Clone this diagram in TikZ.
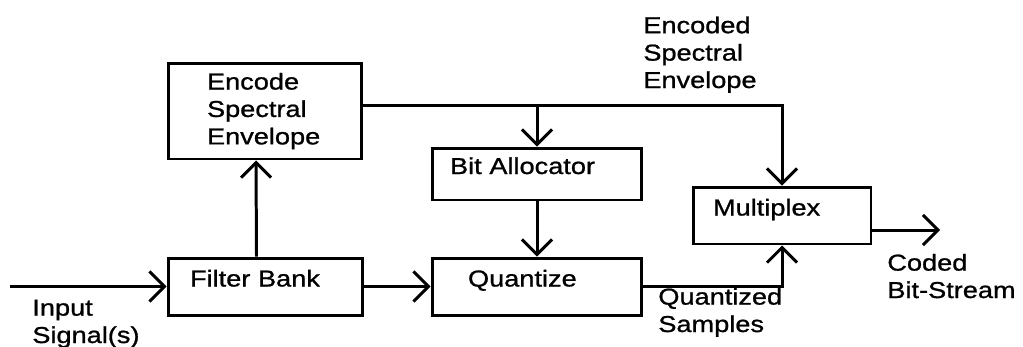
\documentclass[tikz,border=0pt]{standalone}
\usepackage{fontspec}
\setmainfont[FakeStretch=1.18,FakeBold=1]{Liberation Sans}
\usepackage{tikz}
\usetikzlibrary{arrows.meta,calc}
\tikzset{
  blk/.style={draw,line width=1.7pt,inner sep=0pt,align=left},
  blkone/.style={blk,text height=0.2cm,text depth=0.2cm},
  arr/.style={-{Straight Barb[length=0.3cm,width=0.6cm]},line width=1.7pt},
  lbl/.style={anchor=base west,align=left,inner sep=0pt},
}

\begin{document}
\begin{tikzpicture}[x=0.02cm,y=-0.02cm,font=\fontsize{13.1}{15.6}\selectfont]
  \useasboundingbox (0,0) rectangle (1023,346);

  % blocks
  \node[blk,minimum width=3.88cm,minimum height=1.92cm,text width=2.32cm](enc) at (265,111) {Encode\\Spectral\\Envelope};
  \node[blkone,minimum width=3.9cm,minimum height=1.14cm,text width=3.02cm](fb) at (265.5,286.5) {Filter Bank};
  \node[blkone,minimum width=4.2cm,minimum height=1.04cm,text width=3.48cm](bit) at (537,174) {Bit Allocator};
  \node[blkone,minimum width=4.2cm,minimum height=1.14cm,text width=2.76cm](quant) at (537,286.5) {Quantize};
  \node[blkone,minimum width=3.56cm,minimum height=1.14cm,text width=2.76cm](mux) at (782,215.5) {Multiplex};

  % free ends
  \coordinate (in) at (10,286.5);
  \coordinate (out) at (940,230);
  \coordinate (bus) at ($(enc.east)+(0,-6)$);

  % labels (base = last line)
  \node[lbl](insig) at (32,343) {Input\\Signal(s)};
  \node[lbl](encsig) at (643,88) {Encoded\\Spectral\\Envelope};
  \node[lbl](qsig) at (658,332) {Quantized\\Samples};
  \node[lbl](outsig) at (887,298) {Coded\\Bit-Stream};

  % connectors
  \draw[arr](in) -- (in -| fb.west);
  \draw[arr](fb) -- (quant);
  \draw[arr]($(fb.north)+(-9,0)$) -- ($(enc.south)+(-9,0)$);
  \draw[arr](bus) -| (mux.north);
  \draw[arr](bus -| bit.north) -- (bit.north);
  \draw[arr](bit) -- (quant);
  \draw[arr](quant.east) -| (mux.south);
  \draw[arr](mux.east |- out) -- (out);
\end{tikzpicture}
\end{document}
